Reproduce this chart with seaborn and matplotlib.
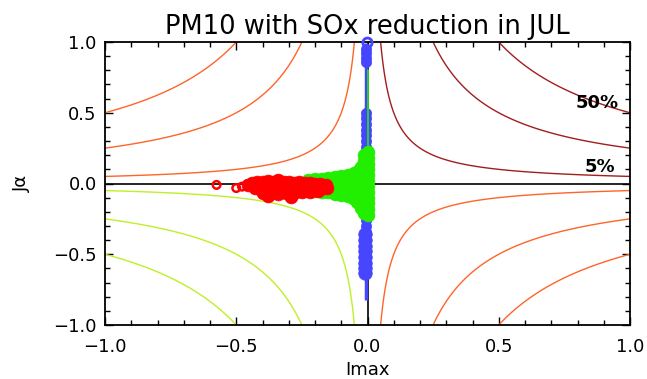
import numpy as np
import pandas as pd
import matplotlib
matplotlib.use('Agg')
import matplotlib.pyplot as plt
from matplotlib.ticker import MultipleLocator, FuncFormatter
import seaborn as sns

sns.set_style('ticks')
plt.rcParams['font.family'] = ['DejaVu Sans']
plt.rcParams['text.color'] = 'black'
plt.rcParams['axes.labelcolor'] = 'black'

# ── Data ─────────────────────────────────────────────────────────────────────
iso_levels = [0.05, 0.25, 0.5]
iso_text = ['5%', '50%']
iso_text_x = [0.885, 0.875]
iso_text_y = [0.12, 0.57]

# red cluster (filled) and the sparse open circles at its left end
red_x = [-0.44, -0.42, -0.40, -0.38, -0.36, -0.34, -0.32, -0.30, -0.28, -0.26, -0.24, -0.22, -0.20, -0.18, -0.16,
         -0.43, -0.41, -0.39, -0.37, -0.35, -0.33, -0.31, -0.29, -0.27, -0.25, -0.23, -0.21, -0.19, -0.17, -0.155,
         -0.40, -0.37, -0.34, -0.31, -0.28, -0.25, -0.22, -0.19,
         -0.38, -0.29, -0.34, -0.455]
red_y = [0.005, 0.012, 0.008, 0.015, 0.010, 0.016, 0.008, 0.012, 0.006, 0.010, 0.004, 0.006, 0.000, -0.004, -0.010,
         -0.030, -0.040, -0.045, -0.038, -0.048, -0.042, -0.050, -0.044, -0.040, -0.046, -0.038, -0.040, -0.034, -0.030, -0.030,
         -0.065, -0.060, -0.072, -0.064, -0.070, -0.060, -0.058, -0.052,
         -0.090, -0.095, 0.025, -0.010]
red_open_x = [-0.575, -0.50, -0.478, -0.458]
red_open_y = [-0.010, -0.032, -0.022, -0.005]

# green cluster
green_x = [-0.225, -0.20, -0.175, -0.15, -0.125, -0.10, -0.075, -0.05, -0.035,
           -0.215, -0.19, -0.165, -0.14, -0.115, -0.09, -0.065, -0.04, -0.025,
           -0.20, -0.175, -0.15, -0.125, -0.10, -0.075, -0.055, -0.04,
           -0.11, -0.085, -0.06, -0.045, -0.03, -0.06, -0.045, -0.03,
           -0.012, -0.012, -0.012, -0.012, -0.012, -0.012, -0.012, -0.012, -0.012, -0.012, -0.012, -0.012,
           0.0, 0.0, 0.0, 0.0, 0.0, 0.0, 0.0, 0.0, 0.0, 0.0, 0.0, 0.0, -0.025, -0.025]
green_y = [0.025, 0.030, 0.035, 0.040, 0.048, 0.052, 0.060, 0.072, 0.085,
           -0.015, -0.012, -0.018, -0.010, -0.015, -0.010, -0.005, 0.000, 0.000,
           -0.050, -0.060, -0.062, -0.072, -0.080, -0.090, -0.105, -0.130,
           0.020, 0.025, 0.030, 0.040, 0.050, -0.050, -0.060, -0.090,
           0.20, 0.16, 0.12, 0.08, 0.04, 0.00, -0.04, -0.08, -0.12, -0.16, -0.19, -0.21,
           0.22, 0.18, 0.14, 0.10, 0.06, 0.02, -0.02, -0.06, -0.10, -0.14, -0.18, -0.22, 0.12, -0.17]
green_stem_x = [0.0, 0.0]
green_stem_y = [0.22, 0.80]

# blue column
blue_line_x = [-0.004, -0.004]
blue_line_y = [0.995, -0.82]
blue_y = [0.95, 0.92, 0.89, 0.86,
          0.50, 0.46, 0.42, 0.38, 0.34, 0.30, 0.26, 0.22, 0.18, 0.14, 0.10, 0.06, 0.02,
          -0.02, -0.06, -0.10, -0.14, -0.18, -0.22, -0.26, -0.30, -0.34]
blue_x = [-0.006] * len(blue_y)
blue_blob_y = [-0.36, -0.40, -0.44, -0.48, -0.52, -0.56, -0.60, -0.63]
blue_blob_x = [-0.008] * len(blue_blob_y)
blue_open_x = [0.0]
blue_open_y = [0.995]

# ── Colours ──────────────────────────────────────────────────────────────────
C_DARKRED = '#A01E1E'
C_ORANGE = '#FF6428'
C_YGREEN = '#BEF028'
C_GREEN = '#22EE00'
C_BLUE = '#4646FF'
C_RED = '#FF0000'

fig = plt.figure(figsize=(6.47, 3.79), dpi=100)
ax = fig.add_axes([105 / 647, 1 - 325 / 379, 525 / 647, 283 / 379])

# iso-lines of Imax * Ja, one quadrant at a time
pos = np.linspace(0.001, 1.0, 400)
neg = -pos
quadrants = [(pos, pos, iso_levels, C_DARKRED),
             (neg, neg, iso_levels, C_YGREEN),
             (neg, pos, [-v for v in iso_levels[::-1]], C_ORANGE),
             (pos, neg, [-v for v in iso_levels[::-1]], C_ORANGE)]
for gx, gy, lev, col in quadrants:
    X, Y = np.meshgrid(gx, gy)
    ax.contour(X, Y, X * Y, levels=lev, colors=col, linewidths=1.0,
               linestyles='solid')

ax.axhline(0, color='black', lw=1.2, zorder=2)
ax.axvline(0, color='black', lw=1.2, zorder=2)

# blue
ax.plot(blue_line_x, blue_line_y, color=C_BLUE, lw=2.5, zorder=3, solid_capstyle='butt')
sns.scatterplot(x=blue_x, y=blue_y, ax=ax, color=C_BLUE, s=55, marker='o',
                edgecolor=C_BLUE, linewidth=0.5, zorder=3)
sns.scatterplot(x=blue_blob_x, y=blue_blob_y, ax=ax, color=C_BLUE, s=95, marker='o',
                edgecolor=C_BLUE, linewidth=0.5, zorder=3)
sns.scatterplot(x=blue_open_x, y=blue_open_y, ax=ax, s=45, marker='o', facecolor='none',
                edgecolor=C_BLUE, linewidth=2, zorder=3, clip_on=False)

# green
ax.plot(green_stem_x, green_stem_y, color=C_GREEN, lw=1.2, zorder=4)
sns.scatterplot(x=green_x, y=green_y, ax=ax, color=C_GREEN, s=85, marker='o',
                edgecolor=C_GREEN, linewidth=0.5, zorder=4)

# red
sns.scatterplot(x=red_x, y=red_y, ax=ax, color=C_RED, s=85, marker='o',
                edgecolor=C_RED, linewidth=0.5, zorder=5)
sns.scatterplot(x=red_open_x, y=red_open_y, ax=ax, s=30, marker='o', facecolor='none',
                edgecolor=C_RED, linewidth=1.8, zorder=5)

for t, tx, ty in zip(iso_text, iso_text_x, iso_text_y):
    ax.text(tx, ty, t, ha='center', va='center', fontsize=13, fontweight='bold',
            color='black', zorder=6)

fmt = FuncFormatter(lambda v, p: f'{v:.1f}'.replace('-', '\u2212'))
ax.set_xlim(-1, 1)
ax.set_ylim(-1, 1)
ax.xaxis.set_major_locator(MultipleLocator(0.5))
ax.yaxis.set_major_locator(MultipleLocator(0.5))
ax.xaxis.set_minor_locator(MultipleLocator(0.1))
ax.yaxis.set_minor_locator(MultipleLocator(0.1))
ax.xaxis.set_major_formatter(fmt)
ax.yaxis.set_major_formatter(fmt)
ax.tick_params(which='both', direction='in', top=True, right=True, colors='black')
ax.tick_params(which='major', length=6, width=1.0, labelsize=13, pad=9)
ax.tick_params(which='minor', length=3.5, width=1.0)
ax.tick_params(axis='y', which='major', pad=6)
for sp in ax.spines.values():
    sp.set_linewidth(1.3)
    sp.set_color('black')

ax.set_xlabel('Imax', fontsize=13, labelpad=4)
ax.set_ylabel('J\u03b1', fontsize=13, labelpad=16)
ax.set_title('PM10 with SOx reduction in JUL', fontsize=18.5, pad=6, color='black')

fig.savefig('out.png', dpi=100)
